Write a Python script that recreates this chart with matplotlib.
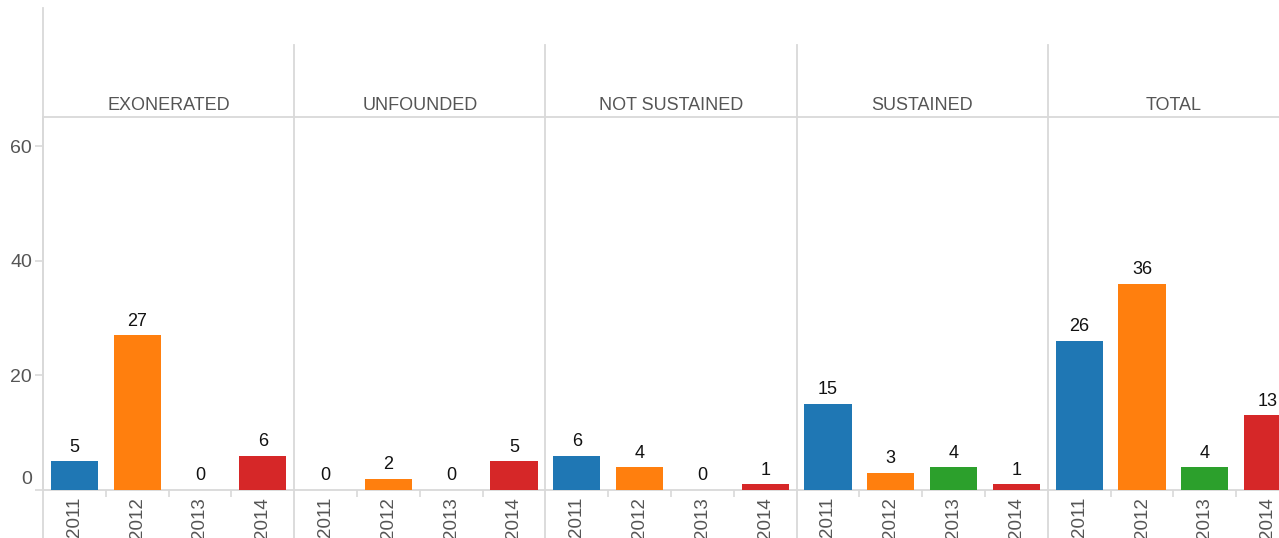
import matplotlib
matplotlib.use("Agg")
import matplotlib.pyplot as plt
import matplotlib.transforms as mtransforms

plt.rcParams['font.family'] = ['Liberation Sans', 'DejaVu Sans']

# data
categories = ["EXONERATED", "UNFOUNDED", "NOT SUSTAINED", "SUSTAINED", "TOTAL"]
years = ["2011", "2012", "2013", "2014"]
exonerated = [5, 27, 0, 6]
unfounded = [0, 2, 0, 5]
not_sustained = [6, 4, 0, 1]
sustained = [15, 3, 4, 1]
total = [26, 36, 4, 13]
y_ticks = [0, 20, 40, 60]

series = [exonerated, unfounded, not_sustained, sustained, total]
colors = ["#1f77b4", "#ff7f0e", "#2ca02c", "#d62728"]
grid_c = "#d9d9d9"

W, H = 1279, 538
fig = plt.figure(figsize=(W / 100, H / 100), dpi=100)
ax = fig.add_axes([43 / W, 48 / H, 1236 / W, 373 / H])

n = len(years)
xs, vals, cols, labels = [], [], [], []
for i, s in enumerate(series):
    for j, v in enumerate(s):
        xs.append(i * n + j)
        vals.append(v)
        cols.append(colors[j])
        labels.append(years[j])

ax.bar(xs, vals, width=0.75, color=cols, zorder=3)
for x, v in zip(xs, vals):
    ax.annotate(str(v), (x, v), xytext=(0, 4), textcoords="offset points",
                ha="center", va="bottom", fontsize=13, color="#111111")

ax.set_xlim(-0.5, -0.5 + 1236 / 62.8)
ax.set_ylim(0, 65.06)

# axes styling
ax.spines["right"].set_visible(False)
for side in ["top", "bottom", "left"]:
    ax.spines[side].set_color(grid_c)
    ax.spines[side].set_linewidth(1.3)

ax.set_yticks(y_ticks)
ax.tick_params(axis="y", length=6, width=1.2, color=grid_c, labelsize=14,
               labelcolor="#555555", pad=2)
# zero label sits a little above the baseline, as in the original
lbl0 = ax.get_yticklabels()[0]
lbl0.set_transform(lbl0.get_transform() +
                   mtransforms.ScaledTranslation(0, 12 / 100, fig.dpi_scale_trans))

ax.set_xticks(xs)
ax.set_xticklabels(labels, rotation=90)
ax.tick_params(axis="x", length=0, labelsize=13.5, labelcolor="#555555", pad=5)
minor = [i * n + j + 0.5 for i in range(len(categories)) for j in range(n - 1)]
ax.set_xticks(minor, minor=True)
ax.tick_params(axis="x", which="minor", length=5, width=1.2, color=grid_c)

# panel dividers and headers
tr = ax.get_xaxis_transform()
bottom_ext = -48 / 373
ax.plot([-0.5, -0.5], [bottom_ext, (490 - 8) / 373], transform=tr,
        color=grid_c, lw=1.3, clip_on=False, zorder=1)
for i in range(1, len(categories)):
    xd = i * n - 0.5
    ax.plot([xd, xd], [bottom_ext, (490 - 45) / 373], transform=tr,
            color=grid_c, lw=1.3, clip_on=False, zorder=1)
for i, name in enumerate(categories):
    ax.text(i * n + (n - 1) / 2, (490 - 105) / 373, name, transform=tr,
            ha="center", va="center", fontsize=13, color="#555555")

fig.savefig("out.png", dpi=100)
